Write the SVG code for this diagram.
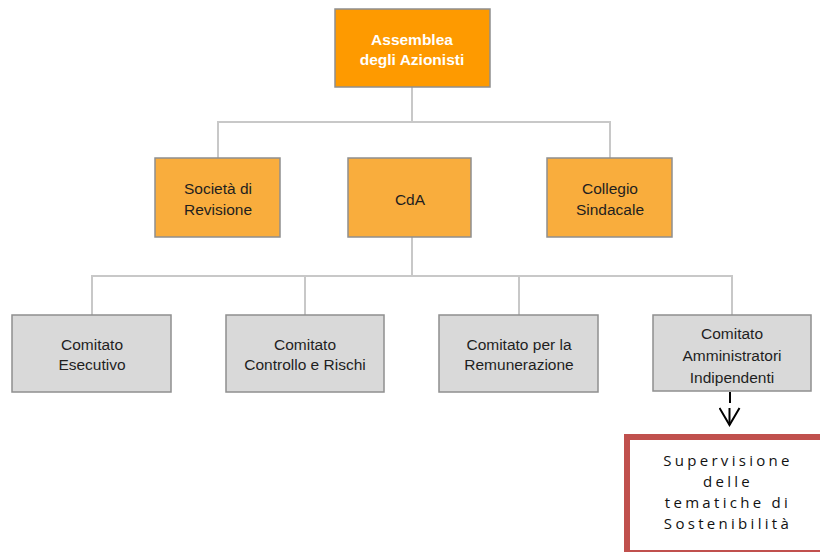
<svg xmlns="http://www.w3.org/2000/svg" width="820" height="552" viewBox="0 0 820 552">
<defs>
<style>
.box{stroke:#8f8f8f;stroke-width:1.5}
.top{fill:#fe9a00}
.mid{fill:#f9ad3d}
.low{fill:#d9d9d9}
.t{font-family:"Liberation Sans",Arial,sans-serif;font-size:15.5px;fill:#1f1f1f;text-anchor:middle}
.tw{font-family:"Liberation Sans",Arial,sans-serif;font-size:15.5px;font-weight:bold;fill:#ffffff;text-anchor:middle}
.ts{font-family:"Open Sans","Liberation Sans",sans-serif;font-size:15px;fill:#111111;text-anchor:middle;letter-spacing:3.3px}
.c{fill:none;stroke:#c8c8c8;stroke-width:2}
</style>
<marker id="arr" markerWidth="24" markerHeight="20" refX="11" refY="18" orient="0" markerUnits="userSpaceOnUse" viewBox="0 0 24 20">
<path d="M1,1 L11,18 L21,1" fill="none" stroke="#000" stroke-width="2"/>
</marker>
</defs>
<g id="connectors">
<path class="c" d="M412,87 V122 M218,158 V122 H610 V158"/>
<path class="c" d="M412,237 V276 M92,315 V276 H732 V315 M305,276 V315 M519,276 V315"/>
<path d="M730,392 V403" stroke="#000" stroke-width="2"/>
<path d="M730,408 V425" stroke="#000" stroke-width="2" marker-end="url(#arr)" transform="translate(-0.5,0)"/>
</g>
<g id="assemblea">
<rect class="box top" x="335" y="9" width="155" height="78"/>
<text class="tw" x="412" y="45">Assemblea</text>
<text class="tw" x="412" y="65">degli Azionisti</text>
</g>
<g id="societa">
<rect class="box mid" x="155" y="158" width="125" height="79"/>
<text class="t" x="218" y="194">Società di</text>
<text class="t" x="218" y="215">Revisione</text>
</g>
<g id="cda">
<rect class="box mid" x="348" y="158" width="123" height="79"/>
<text class="t" x="410" y="205">CdA</text>
</g>
<g id="collegio">
<rect class="box mid" x="547" y="158" width="125" height="79"/>
<text class="t" x="610" y="194">Collegio</text>
<text class="t" x="610" y="215">Sindacale</text>
</g>
<g id="esecutivo">
<rect class="box low" x="12" y="315" width="159" height="77"/>
<text class="t" x="92" y="350">Comitato</text>
<text class="t" x="92" y="370">Esecutivo</text>
</g>
<g id="controllo">
<rect class="box low" x="226" y="315" width="158" height="77"/>
<text class="t" x="305" y="350">Comitato</text>
<text class="t" x="305" y="370">Controllo e Rischi</text>
</g>
<g id="remunerazione">
<rect class="box low" x="439" y="315" width="159" height="77"/>
<text class="t" x="519" y="350">Comitato per la</text>
<text class="t" x="519" y="370">Remunerazione</text>
</g>
<g id="indipendenti">
<rect class="box low" x="653" y="315" width="158" height="76"/>
<text class="t" x="732" y="339">Comitato</text>
<text class="t" x="732" y="361">Amministratori</text>
<text class="t" x="732" y="383">Indipendenti</text>
</g>
<g id="sostenibilita">
<rect x="627" y="437" width="200" height="116" fill="#ffffff" stroke="#c0504d" stroke-width="6"/>
<text class="ts" x="728" y="466">Supervisione</text>
<text class="ts" x="728" y="487">delle</text>
<text class="ts" x="728" y="508">tematiche di</text>
<text class="ts" x="728" y="529">Sostenibilità</text>
</g>
</svg>
